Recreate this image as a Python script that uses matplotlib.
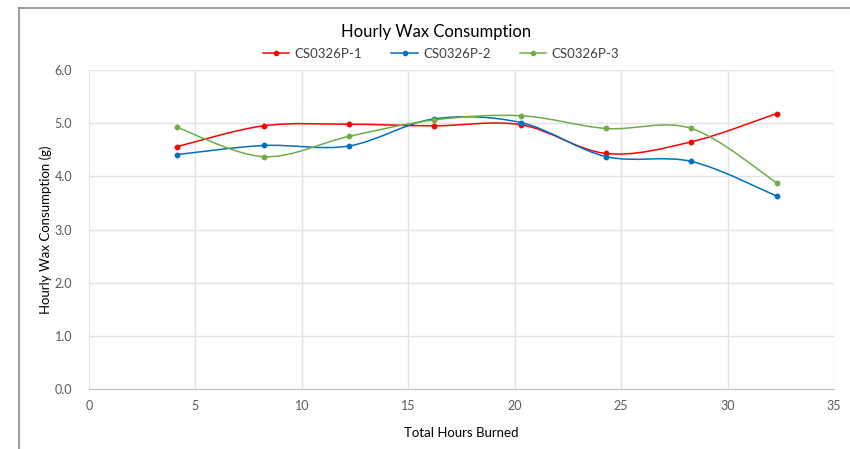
import numpy as np
import matplotlib.pyplot as plt
from matplotlib.path import Path
from matplotlib.patches import PathPatch
from matplotlib.lines import Line2D

plt.rcParams['font.family'] = ['Lato', 'DejaVu Sans']

hours = [4.15, 8.2, 12.2, 16.2, 20.3, 24.3, 28.3, 32.3]
p1 = [4.56, 4.95, 4.98, 4.95, 4.97, 4.43, 4.65, 5.18]
p2 = [4.41, 4.58, 4.57, 5.08, 5.01, 4.37, 4.28, 3.63]
p3 = [4.92, 4.37, 4.75, 5.06, 5.14, 4.90, 4.90, 3.88]
names = ['CS0326P-1', 'CS0326P-2', 'CS0326P-3']
colors = ['#FF0000', '#0070C0', '#70AD47']


def smooth_path(x, y):
    # excel-ish smoothed line: catmull-rom turned into bezier segments
    pts = np.column_stack([x, y])
    verts = [pts[0]]
    codes = [Path.MOVETO]
    n = len(pts)
    for i in range(n - 1):
        p0 = pts[i - 1] if i > 0 else pts[i]
        pa = pts[i]
        pb = pts[i + 1]
        p3_ = pts[i + 2] if i + 2 < n else pts[i + 1]
        c1 = pa + (pb - p0) / 6.0
        c2 = pb - (p3_ - pa) / 6.0
        verts += [c1, c2, pb]
        codes += [Path.CURVE4] * 3
    return Path(verts, codes)


fig = plt.figure(figsize=(8.5, 4.49), dpi=100)
ax = fig.add_axes([89 / 850, 1 - 389 / 449, 745 / 850, 319 / 449])

for ys, name, c in zip([p1, p2, p3], names, colors):
    ax.add_patch(PathPatch(smooth_path(hours, ys), facecolor='none',
                           edgecolor=c, lw=1.1, zorder=3))
    ax.plot(hours, ys, ls='none', marker='o', ms=3.2, color=c, zorder=4)
    ax.plot([], [], color=c, lw=1.1, marker='o', ms=3.0, label=name)

ax.set_xlim(0, 35)
ax.set_ylim(0, 6)
ax.set_xticks(range(0, 36, 5))
ax.set_yticks(np.arange(0, 6.1, 1.0))
ax.set_yticklabels(['%.1f' % v for v in np.arange(0, 6.1, 1.0)])
ax.grid(True, color='#E1E3EA', lw=1.0)
ax.set_axisbelow(True)
for s in ['top', 'right', 'left']:
    ax.spines[s].set_visible(False)
ax.spines['bottom'].set_color('#BFC3CC')
ax.tick_params(length=0, labelsize=9, colors='#595959', pad=8)
ax.tick_params(axis='y', pad=12)

ax.set_xlabel('Total Hours Burned', fontsize=9.5, color='#000000', labelpad=11)
ax.set_ylabel('Hourly Wax Consumption (g)', fontsize=9.5, color='#000000', labelpad=2)

fig.text(436 / 850, 1 - 32 / 449, 'Hourly Wax Consumption', ha='center', va='center',
         fontsize=12, color='#000000')
ax.legend(loc='center', bbox_to_anchor=(441 / 850, 1 - 54 / 449), bbox_transform=fig.transFigure,
          ncol=3, frameon=False, fontsize=9.5, handlelength=2.0, columnspacing=2.2,
          handletextpad=0.4, labelcolor='#404040')

# chart area border
fig.add_artist(Line2D([19 / 850, 19 / 850], [0, 1 - 8 / 449], color='#8C8C8C', lw=1.2))
fig.add_artist(Line2D([19 / 850, 1], [1 - 8 / 449, 1 - 8 / 449], color='#8C8C8C', lw=1.2))

fig.savefig('out.png', dpi=100)
